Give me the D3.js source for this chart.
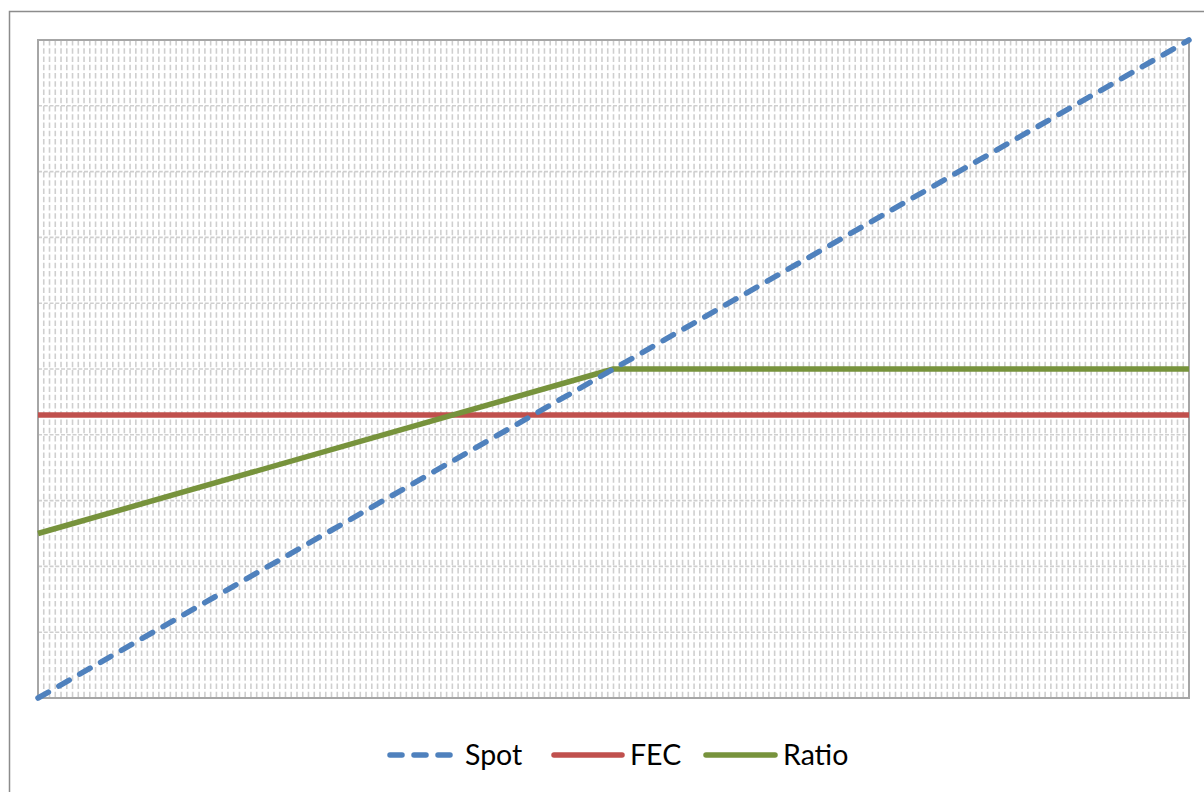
<!DOCTYPE html>
<html><head><meta charset="utf-8">
<script src="https://cdn.jsdelivr.net/npm/d3@7"></script>
<style>html,body{margin:0;padding:0;background:#fff;overflow:hidden}</style>
</head><body>
<svg id="c" width="1204" height="792"></svg>
<script>
// Data
const xValues = [0, 100, 200];
const spotValues = [0, 5, 10];
const fecValues = [4.3, 4.3, 4.3];
const ratioValues = [2.5, 5, 5];
const seriesNames = ["Spot", "FEC", "Ratio"];
const seriesColors = ["#4f81bd", "#c0504d", "#77933c"];

const svg = d3.select("#c");
const m = {left: 38, top: 40, right: 1189, bottom: 698};

// outer chart border
svg.append("rect").attr("x", 9.5).attr("y", 11.5).attr("width", 1220).attr("height", 800)
  .attr("fill", "#fff").attr("stroke", "#8c8c8c").attr("stroke-width", 1.5);

const x = d3.scaleLinear().domain([0, 200]).range([m.left, m.right]);
const y = d3.scaleLinear().domain([0, 10]).range([m.bottom, m.top]);

const grid = svg.append("g");
grid.selectAll("line.v").data(x.ticks(200)).join("line")
  .attr("x1", d => x(d)).attr("x2", d => x(d))
  .attr("y1", m.top).attr("y2", m.bottom)
  .attr("stroke", "#cfcfcf").attr("stroke-width", 1.6)
  .attr("stroke-dasharray", "5.5,2.75");
grid.selectAll("line.h").data(y.ticks(10)).join("line")
  .attr("x1", m.left).attr("x2", m.right)
  .attr("y1", d => y(d)).attr("y2", d => y(d))
  .attr("stroke", "#cfcfcf").attr("stroke-width", 1.6)
  .attr("stroke-dasharray", "4,1.75");

// plot border
svg.append("rect").attr("x", m.left).attr("y", m.top)
  .attr("width", m.right - m.left).attr("height", m.bottom - m.top)
  .attr("fill", "none").attr("stroke", "#a6a6a6").attr("stroke-width", 2);

const line = d3.line().x((d, i) => x(xValues[i])).y(d => y(d));
const plot = svg.append("g");
plot.append("path").datum(fecValues).attr("d", line)
  .attr("fill", "none").attr("stroke", seriesColors[1]).attr("stroke-width", 5.5);
plot.append("path").datum(ratioValues).attr("d", line)
  .attr("fill", "none").attr("stroke", seriesColors[2]).attr("stroke-width", 5.5)
  .attr("stroke-linejoin", "round");
plot.append("path").datum(spotValues).attr("d", line)
  .attr("fill", "none").attr("stroke", seriesColors[0]).attr("stroke-width", 5.5)
  .attr("stroke-linecap", "round").attr("stroke-dasharray", "12,12");

// legend
const legend = [
  {name: seriesNames[0], color: seriesColors[0], x1: 390, x2: 453, tx: 465, dash: "12,12"},
  {name: seriesNames[1], color: seriesColors[1], x1: 554, x2: 622, tx: 630, dash: null},
  {name: seriesNames[2], color: seriesColors[2], x1: 706, x2: 775, tx: 783, dash: null}
];
const lg = svg.append("g");
legend.forEach(l => {
  lg.append("line").attr("x1", l.x1).attr("x2", l.x2).attr("y1", 755).attr("y2", 755)
    .attr("stroke", l.color).attr("stroke-width", 5.5).attr("stroke-linecap", "round")
    .attr("stroke-dasharray", l.dash);
  lg.append("text").attr("x", l.tx).attr("y", 765).text(l.name)
    .attr("font-family", "Lato, 'Open Sans', sans-serif").attr("font-size", 28.5)
    .attr("fill", "#000");
});
</script>
</body></html>
